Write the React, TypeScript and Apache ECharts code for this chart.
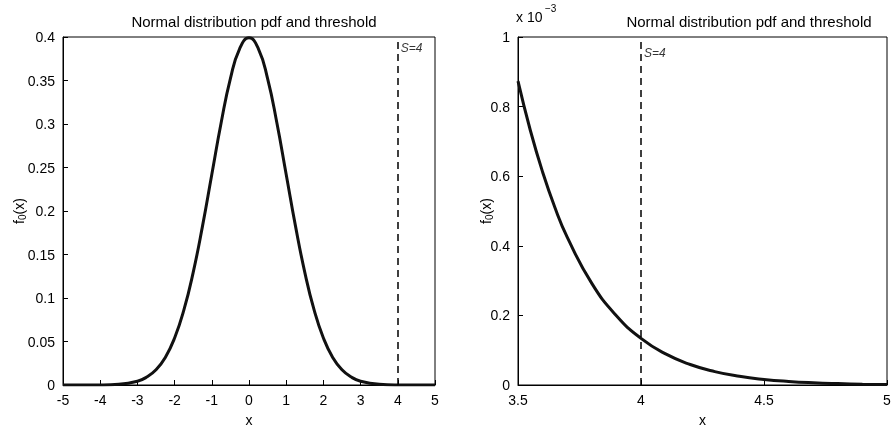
import { useEffect, useRef } from "react"
import * as echarts from "echarts"

// values
const leftX = [-5, -4.5, -4, -3.5, -3, -2.75, -2.5, -2.25, -2, -1.75, -1.5, -1.25, -1, -0.75, -0.5, -0.25, 0, 0.25, 0.5, 0.75, 1, 1.25, 1.5, 1.75, 2, 2.25, 2.5, 2.75, 3, 3.5, 4, 4.5, 5]
const leftY = [0, 0, 0.0001, 0.0009, 0.0044, 0.0091, 0.0175, 0.0317, 0.054, 0.0863, 0.1295, 0.1826, 0.242, 0.3011, 0.3521, 0.3867, 0.399, 0.3867, 0.3521, 0.3011, 0.242, 0.1826, 0.1295, 0.0863, 0.054, 0.0317, 0.0175, 0.0091, 0.0044, 0.0009, 0.0001, 0, 0]
const rightX = [3.5, 3.55, 3.6, 3.65, 3.7, 3.8, 3.9, 4.0, 4.1, 4.2, 4.3, 4.4, 4.5, 4.6, 4.7, 4.8, 4.9, 5.0]
const rightY = [0.873, 0.732, 0.612, 0.51, 0.425, 0.292, 0.199, 0.134, 0.0893, 0.0589, 0.0385, 0.0249, 0.016, 0.0102, 0.0064, 0.004, 0.0024, 0.0015]
const threshold = 4
const titleText = "Normal distribution pdf and threshold"

const font = "Liberation Sans, Arial, sans-serif"

export default function App() {
  const ref = useRef<HTMLDivElement>(null)

  useEffect(() => {
    if (!ref.current) return
    const chart = echarts.init(ref.current, undefined, { renderer: "svg" })

    const axisCommon = {
      axisLine: { show: true, onZero: false, lineStyle: { color: "#000" } },
      axisTick: { show: true, inside: true, length: 5, lineStyle: { color: "#000" } },
      axisLabel: { color: "#000", fontFamily: font, fontSize: 14 },
      splitLine: { show: false },
    }
    const yName = {
      name: "{a|f}{s|0}{a|(x)}",
      nameLocation: "middle" as const,
      nameGap: 36,
      nameMoveOverlap: false,
      nameTextStyle: {
        rich: {
          a: { fontFamily: font, fontSize: 14, color: "#000" },
          s: { fontFamily: font, fontSize: 10, color: "#000", verticalAlign: "bottom" as const, padding: [6, 0, 0, 0] },
        },
      },
    }
    const xName = {
      name: "x",
      nameLocation: "middle" as const,
      nameGap: 28,
      nameTextStyle: { fontFamily: font, fontSize: 14, color: "#000" },
    }
    const dashed = () => ({
      silent: true,
      symbol: "none",
      label: { show: false },
      lineStyle: { color: "#000", type: [7, 5], width: 1.5 },
      data: [{ xAxis: threshold }],
    })
    const sLabel = (y: number, xi: number, yi: number) => ({
      type: "scatter",
      xAxisIndex: xi,
      yAxisIndex: yi,
      symbolSize: 0,
      data: [[threshold, y]],
      label: {
        show: true,
        position: "right",
        distance: 3,
        formatter: "S=4",
        fontFamily: font,
        fontStyle: "italic",
        fontSize: 12,
        color: "#000",
      },
    })
    const titleStyle = { fontFamily: font, fontSize: 15, fontWeight: "normal" as const, color: "#000" }

    chart.setOption({
      animation: false,
      title: [
        { text: titleText, left: 249, top: 9, textAlign: "center", textStyle: titleStyle },
        { text: titleText, left: 744, top: 9, textAlign: "center", textStyle: titleStyle },
      ],
      graphic: [
        { type: "text", left: 516, top: 10, style: { text: "x 10", fontFamily: font, fontSize: 14, fill: "#000" } },
        { type: "text", left: 545, top: 3, style: { text: "−3", fontFamily: font, fontSize: 10, fill: "#000" } },
      ],
      grid: [
        { left: 63, right: 461, top: 37, bottom: 51, show: true, borderColor: "#000", borderWidth: 1, backgroundColor: "#fff" },
        { left: 518, right: 9, top: 37, bottom: 51, show: true, borderColor: "#000", borderWidth: 1, backgroundColor: "#fff" },
      ],
      xAxis: [
        { ...axisCommon, ...xName, type: "value", gridIndex: 0, min: -5, max: 5, interval: 1 },
        { ...axisCommon, ...xName, type: "value", gridIndex: 1, min: 3.5, max: 5, interval: 0.5 },
      ],
      yAxis: [
        { ...axisCommon, ...yName, type: "value", gridIndex: 0, min: 0, max: 0.4, interval: 0.05 },
        { ...axisCommon, ...yName, nameGap: 24, type: "value", gridIndex: 1, min: 0, max: 1, interval: 0.2 },
      ],
      series: [
        {
          type: "line",
          xAxisIndex: 0,
          yAxisIndex: 0,
          smooth: true,
          showSymbol: false,
          data: leftX.map((x, i) => [x, leftY[i]]),
          lineStyle: { color: "#111", width: 3 },
          markLine: dashed(),
        },
        {
          type: "line",
          xAxisIndex: 1,
          yAxisIndex: 1,
          smooth: true,
          showSymbol: false,
          data: rightX.map((x, i) => [x, rightY[i]]),
          lineStyle: { color: "#111", width: 3 },
          markLine: dashed(),
        },
        sLabel(0.387, 0, 0),
        sLabel(0.955, 1, 1),
      ],
    })

    return () => chart.dispose()
  }, [])

  return <div ref={ref} style={{ position: "fixed", left: 0, top: 0, width: 896, height: 436 }} />
}
